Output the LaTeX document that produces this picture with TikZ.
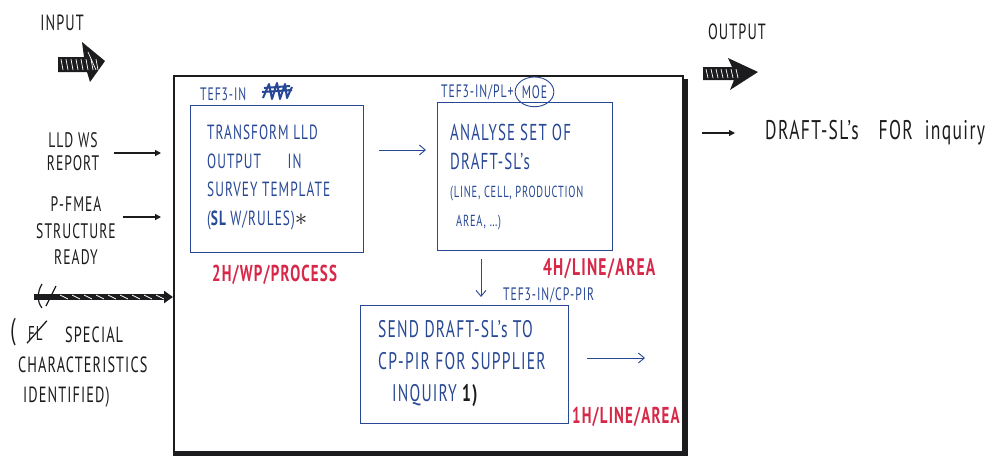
\documentclass[tikz,border=0pt]{standalone}
\usepackage{fontspec}
\setmainfont{PT Sans}[FakeStretch=0.65, LetterSpace=5]
\usetikzlibrary{arrows.meta,shapes.geometric}
\definecolor{inkblack}{RGB}{28,28,30}
\definecolor{inkblue}{RGB}{40,72,150}
\definecolor{inkred}{RGB}{214,40,72}
\newcommand\smallhand{\fontsize{16}{29}\selectfont}
\begin{document}
\begin{tikzpicture}[x=1pt,y=-1pt,
  every node/.style={inner sep=0pt},
  hand/.style={text=inkblack, font=\fontsize{21}{23}\selectfont},
  bluetxt/.style={text=inkblue, align=left, anchor=north west},
  tag/.style={text=inkblue, font=\fontsize{18}{20}\selectfont, anchor=base west},
  effort/.style={text=inkred, font=\bfseries\fontsize{23}{25}\selectfont, anchor=base west},
  stepbox/.style={draw=inkblue, line width=1pt, anchor=north west},
  flowarr/.style={draw=inkblue, line width=0.9pt, -{Straight Barb[length=6pt,width=10pt]}},
  ioarr/.style={draw=inkblack, line width=1.2pt, -{Triangle[length=6pt,width=6pt]}},
  hatch/.style={draw=white, line width=0.7pt},
]
\useasboundingbox (0,0) rectangle (1006,461);

% ---- outer process frame with heavy right/bottom edges
\node[draw=inkblack, line width=2pt, anchor=north west,
      minimum width=509pt, minimum height=376pt] (frame) at (173,75) {};
\draw[inkblack, line width=6pt] ([xshift=1pt,yshift=-4pt]frame.north east) -- ([xshift=1pt,yshift=-2pt]frame.south east);
\draw[inkblack, line width=4pt] ([yshift=-1pt]frame.south west) -- ([xshift=4pt,yshift=-1pt]frame.south east);

% ---- INPUT side
\node[hand, font=\fontsize{22}{24}\selectfont] (inlbl) at (62,23) {INPUT};
\fill[inkblack] (58,57) -- (84,57) -- (82,42) -- (105,61) -- (90,82) -- (87,72) -- (58,72) -- cycle;
\foreach \x in {61,66,...,96} \draw[hatch] (\x,59) -- (\x+2,70);
\draw[hatch] (88,52) -- (96,70);

\node[hand, align=center] (lld) at (73,152) {LLD WS\\REPORT};
\node[hand, align=center, font=\fontsize{21}{26.5}\selectfont] (pfmea) at (76,231) {P-FMEA\\STRUCTURE\\READY};
\coordinate (y1) at (0,153);
\coordinate (y2) at (0,217);
\draw[ioarr] ([xshift=15pt]lld.east |- y1) -- ([xshift=-12pt]frame.west |- y1);
\draw[ioarr] ([xshift=7pt]pfmea.east |- y2) -- ([xshift=-12pt]frame.west |- y2);

% scribbled-out input
\coordinate (xs) at (34,297);
\draw[inkblack, line width=6pt, -{Triangle[length=9pt,width=12pt]}] (xs) -- (frame.west |- xs);
\foreach \x in {60,72,...,156} \draw[hatch] (\x,295) -- (\x+8,299);
\draw[inkblack, line width=1.2pt] (42,284) .. controls (37,292) and (37,302) .. (42,308);
\draw[inkblack, line width=1.2pt] (46,306) -- (56,286);

\node[hand] (lparen) at (13,332) {\fontsize{30}{30}\selectfont(};
\node[hand, anchor=base west, font=\fontsize{20}{22}\selectfont] (fl) at (28,340) {FL};
\draw[inkblack, line width=1.3pt] ([xshift=-1pt,yshift=-3pt]fl.south west) -- ([xshift=4pt,yshift=5pt]fl.north east);
\node[hand, align=left, anchor=north west, font=\fontsize{22}{30}\selectfont] (spec) at (18,327)
  {\hspace{47pt}SPECIAL\\CHARACTERISTICS\\\hspace{5pt}IDENTIFIED)};

% ---- step 1
\node[tag] (tg1) at (200,100) {TEF3-IN};
\draw[inkblue, line width=2pt, line join=round]
  (263,98) -- (269,84) -- (272,99) -- (277,83) -- (280,99) -- (285,84) -- (287,98) -- (292,87)
  (262,92) -- (292,90) (264,88) -- (290,86);
\node[stepbox, minimum width=173pt, minimum height=147pt] (b1) at (190,105) {};
\node[bluetxt, font=\fontsize{20.5}{28.5}\selectfont] (t1) at (207,125)
  {TRANSFORM LLD\\OUTPUT\hspace{1.3em}IN\\SURVEY TEMPLATE\\({\bfseries SL} W/RULES)\textcolor{inkblack}{\fontsize{26}{26}\selectfont$\ast$}};
\node[effort] (e1) at (212,281) {2H/WP/PROCESS};

% ---- step 2
\node[tag] (tg2) at (441,97) {TEF3-IN/PL+};
\node[draw=inkblue, line width=0.9pt, ellipse, inner xsep=1pt, inner ysep=4pt, anchor=west, text=inkblue,
      font=\fontsize{18}{20}\selectfont] (moe) at ([xshift=1pt]tg2.east) {MOE};
\node[stepbox, minimum width=175pt, minimum height=148pt] (b2) at (437,102) {};
\node[bluetxt, font=\fontsize{23}{28.5}\selectfont] (t2) at (450,124)
  {ANALYSE SET OF\\DRAFT-SL's\\{\smallhand (LINE, CELL, PRODUCTION}\\{\smallhand\hspace{6pt}AREA, \dots)}};
\node[effort, font=\bfseries\fontsize{24}{26}\selectfont] (e2) at (543,275) {4H/LINE/AREA};

% ---- step 3
\node[tag] (tg3) at (503,300) {TEF3-IN/CP-PIR};
\node[stepbox, minimum width=208pt, minimum height=118pt] (b3) at (360,305) {};
\node[bluetxt, font=\fontsize{24}{32}\selectfont] (t3) at (378,320)
  {SEND DRAFT-SL's TO\\CP-PIR FOR SUPPLIER\\\hspace{14pt}INQUIRY \textcolor{inkblack}{\bfseries 1)}};
\node[effort] (e3) at (572,423) {1H/LINE/AREA};

% ---- flow between steps
\coordinate (ya) at (0,150);
\coordinate (xd) at (481,0);
\coordinate (o3) at (645,358);
\draw[flowarr] ([xshift=15pt]b1.east |- ya) -- ([xshift=-11pt]b2.west |- ya);
\draw[flowarr] ([yshift=-8pt]b2.south -| xd) -- ([yshift=8pt]b3.north -| xd);
\draw[flowarr] ([xshift=18pt]b3.east |- o3) -- (o3);

% ---- OUTPUT side
\node[hand, font=\fontsize{22}{24}\selectfont] (outlbl) at (737,32) {OUTPUT};
\fill[inkblack] (703,67) -- (732,67) -- (728,58) -- (758,72) -- (730,90) -- (734,80) -- (703,80) -- cycle;
\foreach \x in {706,711,...,736} \draw[hatch] (\x,69) -- (\x+2,78);
\node[hand, anchor=west, font=\fontsize{27}{29}\selectfont] (drafts) at (765,133) {DRAFT-SL's\hspace{20pt}FOR\hspace{12pt}inquiry};
\draw[ioarr] ([xshift=-63pt]drafts.west) -- ([xshift=-30pt]drafts.west);
\end{tikzpicture}
\end{document}
